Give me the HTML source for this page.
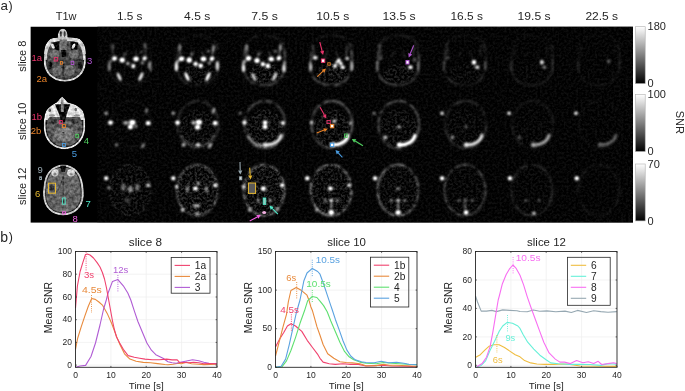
<!DOCTYPE html>
<html><head><meta charset="utf-8"><style>
html,body{margin:0;padding:0;background:#fff;width:685px;height:391px;overflow:hidden;}
svg text{font-family:"Liberation Sans", sans-serif;}
svg{will-change:transform;}
</style></head><body>
<svg width="685" height="391" viewBox="0 0 685 391" style="position:absolute;left:0;top:0" font-family='"Liberation Sans", sans-serif'>
<defs>
 <filter color-interpolation-filters="sRGB" id="b05" x="-20%" y="-20%" width="140%" height="140%"><feGaussianBlur stdDeviation="0.5"/></filter>
 <filter color-interpolation-filters="sRGB" id="b07" x="-50%" y="-50%" width="200%" height="200%"><feGaussianBlur stdDeviation="1.0"/></filter>
 <filter color-interpolation-filters="sRGB" id="snr" x="-50%" y="-50%" width="200%" height="200%"><feGaussianBlur stdDeviation="1.0"/><feComponentTransfer><feFuncR type="linear" slope="1.6"/><feFuncG type="linear" slope="1.6"/><feFuncB type="linear" slope="1.6"/></feComponentTransfer></filter>
 <filter color-interpolation-filters="sRGB" id="tex" x="0" y="0" width="100%" height="100%">
  <feTurbulence type="fractalNoise" baseFrequency="0.32" numOctaves="2" seed="7" result="n"/>
  <feColorMatrix in="n" type="matrix" values="1 0 0 0 0 1 0 0 0 0 1 0 0 0 0 0 0 0 0 1" result="g"/>
  <feComposite in="SourceGraphic" in2="g" operator="arithmetic" k1="0" k2="1" k3="0.5" k4="-0.25" result="m"/>
  <feComposite in="m" in2="SourceAlpha" operator="in" result="c"/>
  <feGaussianBlur in="c" stdDeviation="0.45"/>
 </filter>
 <filter color-interpolation-filters="sRGB" id="speck" x="0" y="0" width="100%" height="100%">
  <feTurbulence type="fractalNoise" baseFrequency="0.42" numOctaves="2" seed="11" result="n"/>
  <feColorMatrix in="n" type="matrix" values="3 0 0 0 -1.2 3 0 0 0 -1.2 3 0 0 0 -1.2 0 0 0 0 1" result="g"/>
  <feComposite in="SourceGraphic" in2="g" operator="arithmetic" k1="1" k2="0" k3="0" k4="0" result="m"/>
  <feGaussianBlur in="m" stdDeviation="0.45"/>
 </filter>
 <filter color-interpolation-filters="sRGB" id="ringf" x="-10%" y="-10%" width="120%" height="120%">
  <feTurbulence type="fractalNoise" baseFrequency="0.18" numOctaves="2" seed="5" result="n"/>
  <feColorMatrix in="n" type="matrix" values="3.2 0 0 0 -0.9 3.2 0 0 0 -0.9 3.2 0 0 0 -0.9 0 0 0 0 1" result="g"/>
  <feComposite in="SourceGraphic" in2="g" operator="arithmetic" k1="1" k2="0" k3="0" k4="0" result="m"/>
  <feGaussianBlur in="m" stdDeviation="0.8"/>
  <feComponentTransfer><feFuncR type="linear" slope="1.5"/><feFuncG type="linear" slope="1.5"/><feFuncB type="linear" slope="1.5"/></feComponentTransfer>
 </filter>
 <filter color-interpolation-filters="sRGB" id="b08" x="-50%" y="-50%" width="200%" height="200%"><feGaussianBlur stdDeviation="0.8"/></filter>
 <filter color-interpolation-filters="sRGB" id="b12" x="-50%" y="-50%" width="200%" height="200%"><feGaussianBlur stdDeviation="1.2"/></filter>
 <filter color-interpolation-filters="sRGB" id="b20" x="-50%" y="-50%" width="200%" height="200%"><feGaussianBlur stdDeviation="2"/></filter>
 <linearGradient id="cbg" x1="0" y1="0" x2="0" y2="1">
  <stop offset="0" stop-color="#fff"/><stop offset="1" stop-color="#000"/>
 </linearGradient>
 <clipPath id="gridclip"><rect x="30.4" y="26.5" width="602.6" height="196.3"/></clipPath>
</defs>
<rect width="685" height="391" fill="#fff"/><g clip-path="url(#gridclip)"><rect x="30.4" y="26.5" width="602.6" height="196.3" fill="#000"/><rect x="97.4" y="26.5" width="535.6" height="196" fill="rgb(15,15,15)" filter="url(#speck)"/><g filter="url(#tex)"><path d="M43.8,63 C43.8,52 45.2,45 48.8,41 C51.5,38.4 55.5,37.4 60,37.4 L70,37.4 C74.5,37.4 78.5,38.4 81.2,41 C84.8,45 86,52 85.8,63 C85.3,73 78,81.5 64.8,81.8 C51.8,81.5 44.3,73 43.8,63 Z" fill="#d4d4d4"/><path d="M45.6,60 C45.6,71 52,79.6 64.8,79.8 C77.6,79.6 84,71 84,60 Z" fill="#2a2a2a"/><path d="M46.6,63 C46.6,54 48,48 51,44.5 C53.5,42 56.5,41 60,41 L70,41 C73.5,41 76.5,42 79,44.5 C82,48 83.2,54 83.2,63 C82.8,71.5 76.5,78.6 64.8,78.8 C53.2,78.6 47,71.5 46.6,63 Z" fill="#4a4a4a"/><path d="M45.3,54 C45.6,47 47.5,42.5 51,40.2 C54,38.8 57,38.8 60,38.8 L70,38.8 C73,38.8 76,38.8 79,40.2 C82.5,42.5 84.4,47 84.7,54" fill="none" stroke="#d8d8d8" stroke-width="2.6"/><path d="M51.2,42.5 L59.5,41.5 L59,50.5 L53.5,50 Z" fill="#080808"/><path d="M70.2,41.5 L78.5,42.5 L76.5,50 L70.8,50.5 Z" fill="#080808"/><ellipse cx="52.9" cy="46.2" rx="1.5" ry="2.8" fill="#e6e6e6" transform="rotate(-25 52.9 46.2)"/><ellipse cx="73.6" cy="46.2" rx="1.5" ry="2.8" fill="#e6e6e6" transform="rotate(25 73.6 46.2)"/><rect x="59.6" y="39.5" width="7.6" height="11" fill="#6e6e6e"/><path d="M61,50 L66.5,50 L65.8,57 L61.8,57 Z" fill="#0c0c0c"/><ellipse cx="54.6" cy="54" rx="5" ry="4.5" fill="#676767"/><ellipse cx="74" cy="54" rx="5" ry="4.5" fill="#676767"/><ellipse cx="49.6" cy="65.5" rx="2.4" ry="3.8" fill="#161616"/><ellipse cx="80" cy="65.5" rx="2.4" ry="3.8" fill="#161616"/><ellipse cx="57.3" cy="70.6" rx="4.8" ry="5.3" fill="#6a6a6a"/><ellipse cx="69.6" cy="70.6" rx="5.2" ry="5.3" fill="#6a6a6a"/><rect x="62.6" y="64" width="1.5" height="12" fill="#262626"/><path d="M57.8,38.5 C57.4,34 58.6,30.4 60.8,29.2 C62,28.6 63.6,28.6 64.8,29.2 C67,30.4 68,34 67.6,38.5 Z" fill="#c8c8c8"/><ellipse cx="60.9" cy="34" rx="1.0" ry="3" fill="#303030"/><ellipse cx="64.6" cy="34" rx="1.0" ry="3" fill="#303030"/></g><g filter="url(#tex)"><path d="M62.2,96.6 C64,98 66,100.8 68,102.4 C74,103.5 80,106.5 83,111 C85.2,116 85.4,122 85.2,128 C85,140 76,149.3 64.5,149.3 C53,149.3 44,140 43.8,128 C43.6,122 44,116 46,111 C49,106.5 54,103.5 56.5,102.4 C58.5,100.8 60.4,98 62.2,96.6 Z" fill="#e0e0e0"/><path d="M45.7,120 C45.5,125 45.5,127 45.6,128.5 C46,139 54,147.4 64.5,147.4 C75,147.4 83,139 83.4,128.5 C83.5,127 83.5,125 83.3,120 Z" fill="#222"/><path d="M46.8,128 C46.8,122 47.4,119 49.5,117 L79.5,117 C81.4,119 82.2,122 82.2,128 C82.2,138.5 74.5,146.3 64.5,146.3 C54.5,146.3 46.8,138.5 46.8,128 Z" fill="#585858"/><ellipse cx="49.7" cy="110.3" rx="1.3" ry="1.8" fill="#606060"/><ellipse cx="75.7" cy="109.5" rx="1.3" ry="1.8" fill="#606060"/><ellipse cx="52" cy="115.5" rx="3" ry="1.2" fill="#909090"/><ellipse cx="77" cy="115.5" rx="3" ry="1.2" fill="#909090"/><path d="M55,104.2 L70.2,104.2 L66.8,114 L64.8,122.5 L61.4,122.5 L59,114 Z" fill="#0a0a0a"/><path d="M61.1,99.5 L63.5,99.5 L63.9,112 L60.8,112 Z" fill="#828282"/><ellipse cx="54" cy="121.5" rx="3.4" ry="2.4" fill="#383838"/><ellipse cx="74.5" cy="121.5" rx="3.4" ry="2.4" fill="#383838"/><ellipse cx="64.2" cy="134.5" rx="10" ry="7.6" fill="#7a7a7a"/><ellipse cx="63.3" cy="132.8" rx="1.2" ry="0.8" fill="#1e1e1e"/></g><g filter="url(#tex)"><path d="M63.2,164.6 C72,164.6 78.5,170 81.5,178 C83.5,184 84,190 83.8,196 C83.3,207 75,215.4 63.2,215.4 C51.4,215.4 43.5,207 43.1,196 C42.9,190 43.4,184 45.1,178 C48.1,170 54.4,164.6 63.2,164.6 Z" fill="#d0d0d0"/><path d="M63.2,166.6 C71,166.6 77,171.5 79.6,178.5 C81.4,184 81.9,190 81.7,196 C81.3,206 74,213.4 63.2,213.4 C52.4,213.4 45.5,206 45.2,196 C45,190 45.4,184 47,178.5 C49.6,171.5 55.4,166.6 63.2,166.6 Z" fill="#262626"/><path d="M63.2,167.6 C70.5,167.6 76.2,172 78.7,179 C80.4,184 80.9,190 80.7,196 C80.3,205.5 73.5,212.4 63.2,212.4 C52.9,212.4 46.4,205.5 46.1,196 C45.9,190 46.3,184 47.9,179 C50.4,172 55.9,167.6 63.2,167.6 Z" fill="#666666"/><ellipse cx="55" cy="172.8" rx="3.6" ry="3.6" fill="#d4d4d4"/><ellipse cx="71" cy="172.8" rx="4.0" ry="3.6" fill="#d4d4d4"/><ellipse cx="55" cy="174" rx="1.5" ry="1.5" fill="#808080"/><ellipse cx="71" cy="174" rx="1.5" ry="1.5" fill="#808080"/><path d="M60,165.5 L66.3,165.5 L64.8,172 L61.5,172 Z" fill="#0c0c0c"/><rect x="62.6" y="176" width="1.1" height="28" fill="#303030"/><ellipse cx="53" cy="200" rx="5" ry="6" fill="#5e5e5e"/><ellipse cx="73.5" cy="200" rx="5" ry="6" fill="#5e5e5e"/><ellipse cx="52" cy="188" rx="2.2" ry="3.5" fill="#404040"/><path d="M63.2,176 C62,182 60,186 58,190" fill="none" stroke="#404040" stroke-width="0.8"/></g><ellipse cx="130.9" cy="73.5" rx="15.5" ry="10" fill="rgb(18,18,18)" filter="url(#speck)"/><ellipse cx="197.9" cy="73.5" rx="15.5" ry="10" fill="rgb(34,34,34)" filter="url(#speck)"/><ellipse cx="264.8" cy="73.5" rx="15.5" ry="10" fill="rgb(48,48,48)" filter="url(#speck)"/><ellipse cx="331.8" cy="73.5" rx="15.5" ry="10" fill="rgb(48,48,48)" filter="url(#speck)"/><ellipse cx="398.7" cy="73.5" rx="15.5" ry="10" fill="rgb(38,38,38)" filter="url(#speck)"/><ellipse cx="465.6" cy="73.5" rx="15.5" ry="10" fill="rgb(26,26,26)" filter="url(#speck)"/><ellipse cx="532.6" cy="73.5" rx="15.5" ry="10" fill="rgb(20,20,20)" filter="url(#speck)"/><ellipse cx="599.5" cy="73.5" rx="15.5" ry="10" fill="rgb(16,16,16)" filter="url(#speck)"/><ellipse cx="130.9" cy="128.8" rx="18.5" ry="19.5" fill="rgb(18,18,18)" filter="url(#speck)"/><ellipse cx="197.9" cy="128.8" rx="18.5" ry="19.5" fill="rgb(34,34,34)" filter="url(#speck)"/><ellipse cx="264.8" cy="128.8" rx="18.5" ry="19.5" fill="rgb(44,44,44)" filter="url(#speck)"/><ellipse cx="331.8" cy="128.8" rx="18.5" ry="19.5" fill="rgb(44,44,44)" filter="url(#speck)"/><ellipse cx="398.7" cy="128.8" rx="18.5" ry="19.5" fill="rgb(36,36,36)" filter="url(#speck)"/><ellipse cx="465.6" cy="128.8" rx="18.5" ry="19.5" fill="rgb(26,26,26)" filter="url(#speck)"/><ellipse cx="532.6" cy="128.8" rx="18.5" ry="19.5" fill="rgb(20,20,20)" filter="url(#speck)"/><ellipse cx="599.5" cy="128.8" rx="18.5" ry="19.5" fill="rgb(16,16,16)" filter="url(#speck)"/><ellipse cx="130.2" cy="190.2" rx="21.5" ry="26.5" fill="rgb(34,34,34)" filter="url(#speck)"/><ellipse cx="197.2" cy="190.2" rx="21.5" ry="26.5" fill="rgb(50,50,50)" filter="url(#speck)"/><ellipse cx="264.1" cy="190.2" rx="21.5" ry="26.5" fill="rgb(52,52,52)" filter="url(#speck)"/><ellipse cx="331.1" cy="190.2" rx="21.5" ry="26.5" fill="rgb(42,42,42)" filter="url(#speck)"/><ellipse cx="398.0" cy="190.2" rx="21.5" ry="26.5" fill="rgb(32,32,32)" filter="url(#speck)"/><ellipse cx="464.9" cy="190.2" rx="21.5" ry="26.5" fill="rgb(24,24,24)" filter="url(#speck)"/><ellipse cx="531.9" cy="190.2" rx="21.5" ry="26.5" fill="rgb(19,19,19)" filter="url(#speck)"/><ellipse cx="598.8" cy="190.2" rx="21.5" ry="26.5" fill="rgb(15,15,15)" filter="url(#speck)"/><g filter="url(#ringf)" style="mix-blend-mode:screen"><rect x="98.4" y="27.5" width="64.9" height="63.3" fill="#000"/><path d="M14.5,17 C13,25 12.5,34 12.6,42 C13,48 16,53 20.5,55.8 C26,58.6 34,59.2 40,57.8 C46,56.3 50.6,51.5 53,44.5 C54.2,36 53.8,25 52,17" transform="translate(97.44,26.50)" fill="none" stroke="rgb(14,14,14)" stroke-width="1.7"/><path d="M14.5,17 C19,11 26,8.8 33.3,8.8 C40.5,8.8 47.5,11 52,17" transform="translate(97.44,26.50)" fill="none" stroke="rgb(7,7,7)" stroke-width="1.2"/></g><g filter="url(#snr)" style="mix-blend-mode:screen"><rect x="98.4" y="27.5" width="64.9" height="63.3" fill="#000"/><line x1="112.4" y1="45.5" x2="113.4" y2="55.5" stroke="rgb(49,49,49)" stroke-width="1.1" stroke-linecap="round"/><line x1="146.2" y1="45.5" x2="145.4" y2="55.5" stroke="rgb(54,54,54)" stroke-width="1.1" stroke-linecap="round"/><line x1="126.9" y1="51.5" x2="123.4" y2="57.5" stroke="rgb(40,40,40)" stroke-width="1.0" stroke-linecap="round"/><line x1="134.9" y1="51.5" x2="137.4" y2="57.5" stroke="rgb(40,40,40)" stroke-width="1.0" stroke-linecap="round"/><line x1="109.2" y1="62.0" x2="109.2" y2="70.5" stroke="rgb(85,85,85)" stroke-width="1.5" stroke-linecap="round"/><line x1="150.4" y1="62.0" x2="150.6" y2="70.5" stroke="rgb(81,81,81)" stroke-width="1.5" stroke-linecap="round"/><ellipse cx="114.5" cy="58.5" rx="2.5" ry="2.1" fill="rgb(191,191,191)" transform="rotate(-10 114.5 58.5)"/><ellipse cx="122.2" cy="60.1" rx="2.6" ry="2.4000000000000004" fill="rgb(191,191,191)"/><ellipse cx="136.0" cy="59.0" rx="2.7" ry="2.2" fill="rgb(191,191,191)"/><ellipse cx="144.6" cy="58.4" rx="2.3000000000000003" ry="1.9" fill="rgb(180,180,180)" transform="rotate(-30 144.6 58.4)"/><ellipse cx="133.3" cy="66.1" rx="1.9" ry="2.2" fill="rgb(191,191,191)"/><ellipse cx="127.9" cy="63.5" rx="1.8" ry="1.7" fill="rgb(120,120,120)"/><ellipse cx="119.2" cy="76.8" rx="1.5" ry="4.4" fill="rgb(157,157,157)" transform="rotate(-25 119.2 76.8)"/><ellipse cx="141.0" cy="76.5" rx="1.5" ry="4.6000000000000005" fill="rgb(157,157,157)" transform="rotate(25 141.0 76.5)"/><ellipse cx="109.2" cy="66.7" rx="1.4" ry="3.8000000000000003" fill="rgb(90,90,90)"/><ellipse cx="149.4" cy="65.3" rx="1.4" ry="3.8000000000000003" fill="rgb(90,90,90)"/><ellipse cx="112.8" cy="46.5" rx="1.3" ry="2.8000000000000003" fill="rgb(60,60,60)"/><ellipse cx="144.8" cy="45.5" rx="1.3" ry="2.8000000000000003" fill="rgb(67,67,67)"/><ellipse cx="142.4" cy="62.9" rx="1.5999999999999999" ry="1.5999999999999999" fill="rgb(97,97,97)"/><ellipse cx="110.7" cy="61.6" rx="1.4" ry="1.4" fill="rgb(75,75,75)"/><ellipse cx="124.8" cy="54.3" rx="1.5999999999999999" ry="1.2" fill="rgb(60,60,60)"/><ellipse cx="141.4" cy="52.0" rx="1.5999999999999999" ry="1.2" fill="rgb(52,52,52)"/></g><g filter="url(#ringf)" style="mix-blend-mode:screen"><rect x="165.4" y="27.5" width="64.9" height="63.3" fill="#000"/><path d="M14.5,17 C13,25 12.5,34 12.6,42 C13,48 16,53 20.5,55.8 C26,58.6 34,59.2 40,57.8 C46,56.3 50.6,51.5 53,44.5 C54.2,36 53.8,25 52,17" transform="translate(164.38,26.50)" fill="none" stroke="rgb(37,37,37)" stroke-width="1.7"/><path d="M14.5,17 C19,11 26,8.8 33.3,8.8 C40.5,8.8 47.5,11 52,17" transform="translate(164.38,26.50)" fill="none" stroke="rgb(18,18,18)" stroke-width="1.2"/></g><g filter="url(#snr)" style="mix-blend-mode:screen"><rect x="165.4" y="27.5" width="64.9" height="63.3" fill="#000"/><line x1="179.4" y1="45.5" x2="180.4" y2="55.5" stroke="rgb(74,74,74)" stroke-width="1.1" stroke-linecap="round"/><line x1="213.2" y1="45.5" x2="212.4" y2="55.5" stroke="rgb(81,81,81)" stroke-width="1.1" stroke-linecap="round"/><line x1="193.9" y1="51.5" x2="190.4" y2="57.5" stroke="rgb(60,60,60)" stroke-width="1.0" stroke-linecap="round"/><line x1="201.9" y1="51.5" x2="204.4" y2="57.5" stroke="rgb(60,60,60)" stroke-width="1.0" stroke-linecap="round"/><line x1="176.2" y1="62.0" x2="176.2" y2="70.5" stroke="rgb(128,128,128)" stroke-width="1.5" stroke-linecap="round"/><line x1="217.4" y1="62.0" x2="217.6" y2="70.5" stroke="rgb(121,121,121)" stroke-width="1.5" stroke-linecap="round"/><ellipse cx="181.5" cy="58.8" rx="2.8000000000000003" ry="2.2" fill="rgb(191,191,191)" transform="rotate(-15 181.5 58.8)"/><ellipse cx="189.2" cy="60.0" rx="2.6" ry="2.6" fill="rgb(191,191,191)"/><ellipse cx="203.5" cy="59.0" rx="2.8000000000000003" ry="2.2" fill="rgb(191,191,191)"/><ellipse cx="212.0" cy="58.8" rx="2.4000000000000004" ry="2.0" fill="rgb(191,191,191)" transform="rotate(-30 212.0 58.8)"/><ellipse cx="195.6" cy="63.9" rx="2.1" ry="2.1" fill="rgb(191,191,191)"/><ellipse cx="200.7" cy="65.7" rx="2.1" ry="2.3000000000000003" fill="rgb(191,191,191)"/><ellipse cx="187.0" cy="76.6" rx="1.5" ry="4.8" fill="rgb(180,180,180)" transform="rotate(-25 187.0 76.6)"/><ellipse cx="208.0" cy="76.6" rx="1.5" ry="4.8" fill="rgb(183,183,183)" transform="rotate(25 208.0 76.6)"/><ellipse cx="176.4" cy="66.7" rx="1.5999999999999999" ry="4.2" fill="rgb(165,165,165)"/><ellipse cx="217.3" cy="65.4" rx="1.5999999999999999" ry="4.2" fill="rgb(142,142,142)"/><ellipse cx="179.9" cy="47.5" rx="1.3" ry="3.4000000000000004" fill="rgb(90,90,90)"/><ellipse cx="213.4" cy="48.5" rx="1.3" ry="3.8000000000000003" fill="rgb(97,97,97)" transform="rotate(5 213.4 48.5)"/><ellipse cx="209.4" cy="62.9" rx="1.5" ry="1.5" fill="rgb(105,105,105)"/><ellipse cx="177.7" cy="61.6" rx="1.5" ry="1.5" fill="rgb(112,112,112)"/><ellipse cx="191.8" cy="53.9" rx="1.7" ry="1.2" fill="rgb(75,75,75)"/><ellipse cx="208.4" cy="51.3" rx="1.7" ry="1.2" fill="rgb(75,75,75)"/></g><g filter="url(#ringf)" style="mix-blend-mode:screen"><rect x="232.3" y="27.5" width="64.9" height="63.3" fill="#000"/><path d="M14.5,17 C13,25 12.5,34 12.6,42 C13,48 16,53 20.5,55.8 C26,58.6 34,59.2 40,57.8 C46,56.3 50.6,51.5 53,44.5 C54.2,36 53.8,25 52,17" transform="translate(231.32,26.50)" fill="none" stroke="rgb(64,64,64)" stroke-width="1.7"/><path d="M14.5,17 C19,11 26,8.8 33.3,8.8 C40.5,8.8 47.5,11 52,17" transform="translate(231.32,26.50)" fill="none" stroke="rgb(32,32,32)" stroke-width="1.2"/></g><g filter="url(#snr)" style="mix-blend-mode:screen"><rect x="232.3" y="27.5" width="64.9" height="63.3" fill="#000"/><line x1="246.3" y1="45.5" x2="247.3" y2="55.5" stroke="rgb(82,82,82)" stroke-width="1.1" stroke-linecap="round"/><line x1="280.1" y1="45.5" x2="279.3" y2="55.5" stroke="rgb(90,90,90)" stroke-width="1.1" stroke-linecap="round"/><line x1="260.8" y1="51.5" x2="257.3" y2="57.5" stroke="rgb(67,67,67)" stroke-width="1.0" stroke-linecap="round"/><line x1="268.8" y1="51.5" x2="271.3" y2="57.5" stroke="rgb(67,67,67)" stroke-width="1.0" stroke-linecap="round"/><line x1="243.1" y1="62.0" x2="243.1" y2="70.5" stroke="rgb(142,142,142)" stroke-width="1.5" stroke-linecap="round"/><line x1="284.3" y1="62.0" x2="284.5" y2="70.5" stroke="rgb(135,135,135)" stroke-width="1.5" stroke-linecap="round"/><ellipse cx="248.5" cy="58.4" rx="2.7" ry="2.2" fill="rgb(191,191,191)" transform="rotate(-15 248.5 58.4)"/><ellipse cx="257.0" cy="60.6" rx="2.6" ry="2.4000000000000004" fill="rgb(191,191,191)"/><ellipse cx="271.3" cy="59.1" rx="2.7" ry="2.2" fill="rgb(191,191,191)"/><ellipse cx="278.9" cy="58.3" rx="2.4000000000000004" ry="2.0" fill="rgb(191,191,191)" transform="rotate(-30 278.9 58.3)"/><ellipse cx="262.9" cy="64.1" rx="2.1" ry="2.2" fill="rgb(191,191,191)"/><ellipse cx="267.9" cy="65.9" rx="2.1" ry="2.3000000000000003" fill="rgb(191,191,191)"/><ellipse cx="253.8" cy="77.0" rx="1.5" ry="4.4" fill="rgb(135,135,135)" transform="rotate(-25 253.8 77.0)"/><ellipse cx="274.7" cy="76.5" rx="1.5" ry="4.6000000000000005" fill="rgb(142,142,142)" transform="rotate(25 274.7 76.5)"/><ellipse cx="243.5" cy="68.2" rx="1.5999999999999999" ry="3.8000000000000003" fill="rgb(157,157,157)"/><ellipse cx="283.9" cy="68.2" rx="1.5999999999999999" ry="3.8000000000000003" fill="rgb(150,150,150)"/><ellipse cx="246.8" cy="47.5" rx="1.3" ry="3.4000000000000004" fill="rgb(90,90,90)"/><ellipse cx="280.5" cy="47.5" rx="1.3" ry="3.4000000000000004" fill="rgb(105,105,105)" transform="rotate(5 280.5 47.5)"/><ellipse cx="244.6" cy="61.6" rx="1.5" ry="1.5" fill="rgb(112,112,112)"/><ellipse cx="258.7" cy="53.9" rx="1.7" ry="1.2" fill="rgb(75,75,75)"/><ellipse cx="275.3" cy="51.3" rx="1.7" ry="1.2" fill="rgb(75,75,75)"/></g><g filter="url(#ringf)" style="mix-blend-mode:screen"><rect x="299.3" y="27.5" width="64.9" height="63.3" fill="#000"/><path d="M14.5,17 C13,25 12.5,34 12.6,42 C13,48 16,53 20.5,55.8 C26,58.6 34,59.2 40,57.8 C46,56.3 50.6,51.5 53,44.5 C54.2,36 53.8,25 52,17" transform="translate(298.26,26.50)" fill="none" stroke="rgb(71,71,71)" stroke-width="1.7"/><path d="M14.5,17 C19,11 26,8.8 33.3,8.8 C40.5,8.8 47.5,11 52,17" transform="translate(298.26,26.50)" fill="none" stroke="rgb(35,35,35)" stroke-width="1.2"/></g><g filter="url(#snr)" style="mix-blend-mode:screen"><rect x="299.3" y="27.5" width="64.9" height="63.3" fill="#000"/><line x1="313.3" y1="45.5" x2="314.3" y2="55.5" stroke="rgb(61,61,61)" stroke-width="1.1" stroke-linecap="round"/><line x1="347.1" y1="45.5" x2="346.3" y2="55.5" stroke="rgb(67,67,67)" stroke-width="1.1" stroke-linecap="round"/><line x1="327.8" y1="51.5" x2="324.3" y2="57.5" stroke="rgb(50,50,50)" stroke-width="1.0" stroke-linecap="round"/><line x1="335.8" y1="51.5" x2="338.3" y2="57.5" stroke="rgb(50,50,50)" stroke-width="1.0" stroke-linecap="round"/><line x1="310.1" y1="62.0" x2="310.1" y2="70.5" stroke="rgb(106,106,106)" stroke-width="1.5" stroke-linecap="round"/><line x1="351.3" y1="62.0" x2="351.5" y2="70.5" stroke="rgb(101,101,101)" stroke-width="1.5" stroke-linecap="round"/><ellipse cx="315.2" cy="57.7" rx="2.5" ry="1.8" fill="rgb(168,168,168)"/><ellipse cx="338.9" cy="60.3" rx="1.8" ry="1.8" fill="rgb(191,191,191)"/><ellipse cx="340.8" cy="63.5" rx="1.8" ry="1.8" fill="rgb(191,191,191)"/><ellipse cx="335.0" cy="66.1" rx="2.0" ry="1.8" fill="rgb(191,191,191)"/><ellipse cx="342.7" cy="67.3" rx="2.0" ry="1.8" fill="rgb(191,191,191)"/><ellipse cx="336.9" cy="62.2" rx="1.5" ry="1.5" fill="rgb(165,165,165)"/><ellipse cx="347.2" cy="58.4" rx="1.9" ry="1.7" fill="rgb(142,142,142)"/><ellipse cx="310.7" cy="66.5" rx="1.4" ry="3.7" fill="rgb(112,112,112)"/><ellipse cx="351.9" cy="66.5" rx="1.4" ry="3.7" fill="rgb(112,112,112)"/></g><g filter="url(#ringf)" style="mix-blend-mode:screen"><rect x="366.2" y="27.5" width="64.9" height="63.3" fill="#000"/><path d="M14.5,17 C13,25 12.5,34 12.6,42 C13,48 16,53 20.5,55.8 C26,58.6 34,59.2 40,57.8 C46,56.3 50.6,51.5 53,44.5 C54.2,36 53.8,25 52,17" transform="translate(365.20,26.50)" fill="none" stroke="rgb(64,64,64)" stroke-width="1.7"/><path d="M14.5,17 C19,11 26,8.8 33.3,8.8 C40.5,8.8 47.5,11 52,17" transform="translate(365.20,26.50)" fill="none" stroke="rgb(32,32,32)" stroke-width="1.2"/></g><g filter="url(#snr)" style="mix-blend-mode:screen"><rect x="366.2" y="27.5" width="64.9" height="63.3" fill="#000"/><line x1="380.2" y1="45.5" x2="381.2" y2="55.5" stroke="rgb(45,45,45)" stroke-width="1.1" stroke-linecap="round"/><line x1="414.0" y1="45.5" x2="413.2" y2="55.5" stroke="rgb(49,49,49)" stroke-width="1.1" stroke-linecap="round"/><line x1="394.7" y1="51.5" x2="391.2" y2="57.5" stroke="rgb(37,37,37)" stroke-width="1.0" stroke-linecap="round"/><line x1="402.7" y1="51.5" x2="405.2" y2="57.5" stroke="rgb(37,37,37)" stroke-width="1.0" stroke-linecap="round"/><line x1="377.0" y1="62.0" x2="377.0" y2="70.5" stroke="rgb(78,78,78)" stroke-width="1.5" stroke-linecap="round"/><line x1="418.2" y1="62.0" x2="418.4" y2="70.5" stroke="rgb(74,74,74)" stroke-width="1.5" stroke-linecap="round"/><ellipse cx="410.4" cy="67.3" rx="2.2" ry="1.8" fill="rgb(191,191,191)"/><ellipse cx="380.9" cy="58.0" rx="1.5" ry="1.5" fill="rgb(75,75,75)"/><ellipse cx="414.6" cy="59.7" rx="1.5" ry="2.0" fill="rgb(67,67,67)"/></g><g filter="url(#ringf)" style="mix-blend-mode:screen"><rect x="433.1" y="27.5" width="64.9" height="63.3" fill="#000"/><path d="M14.5,17 C13,25 12.5,34 12.6,42 C13,48 16,53 20.5,55.8 C26,58.6 34,59.2 40,57.8 C46,56.3 50.6,51.5 53,44.5 C54.2,36 53.8,25 52,17" transform="translate(432.14,26.50)" fill="none" stroke="rgb(39,39,39)" stroke-width="1.7"/><path d="M14.5,17 C19,11 26,8.8 33.3,8.8 C40.5,8.8 47.5,11 52,17" transform="translate(432.14,26.50)" fill="none" stroke="rgb(19,19,19)" stroke-width="1.2"/></g><g filter="url(#snr)" style="mix-blend-mode:screen"><rect x="433.1" y="27.5" width="64.9" height="63.3" fill="#000"/><line x1="447.1" y1="45.5" x2="448.1" y2="55.5" stroke="rgb(28,28,28)" stroke-width="1.1" stroke-linecap="round"/><line x1="480.9" y1="45.5" x2="480.1" y2="55.5" stroke="rgb(31,31,31)" stroke-width="1.1" stroke-linecap="round"/><line x1="461.6" y1="51.5" x2="458.1" y2="57.5" stroke="rgb(23,23,23)" stroke-width="1.0" stroke-linecap="round"/><line x1="469.6" y1="51.5" x2="472.1" y2="57.5" stroke="rgb(23,23,23)" stroke-width="1.0" stroke-linecap="round"/><line x1="443.9" y1="62.0" x2="443.9" y2="70.5" stroke="rgb(49,49,49)" stroke-width="1.5" stroke-linecap="round"/><line x1="485.1" y1="62.0" x2="485.3" y2="70.5" stroke="rgb(47,47,47)" stroke-width="1.5" stroke-linecap="round"/><ellipse cx="474.0" cy="62.3" rx="2.1" ry="2.4000000000000004" fill="rgb(191,191,191)"/><ellipse cx="477.3" cy="67.3" rx="2.0" ry="1.7" fill="rgb(165,165,165)"/><ellipse cx="447.8" cy="58.0" rx="1.4" ry="1.4" fill="rgb(60,60,60)"/></g><g filter="url(#ringf)" style="mix-blend-mode:screen"><rect x="500.1" y="27.5" width="64.9" height="63.3" fill="#000"/><path d="M14.5,17 C13,25 12.5,34 12.6,42 C13,48 16,53 20.5,55.8 C26,58.6 34,59.2 40,57.8 C46,56.3 50.6,51.5 53,44.5 C54.2,36 53.8,25 52,17" transform="translate(499.08,26.50)" fill="none" stroke="rgb(25,25,25)" stroke-width="1.7"/><path d="M14.5,17 C19,11 26,8.8 33.3,8.8 C40.5,8.8 47.5,11 52,17" transform="translate(499.08,26.50)" fill="none" stroke="rgb(12,12,12)" stroke-width="1.2"/></g><g filter="url(#snr)" style="mix-blend-mode:screen"><rect x="500.1" y="27.5" width="64.9" height="63.3" fill="#000"/><line x1="514.1" y1="45.5" x2="515.1" y2="55.5" stroke="rgb(18,18,18)" stroke-width="1.1" stroke-linecap="round"/><line x1="547.9" y1="45.5" x2="547.1" y2="55.5" stroke="rgb(19,19,19)" stroke-width="1.1" stroke-linecap="round"/><line x1="528.6" y1="51.5" x2="525.1" y2="57.5" stroke="rgb(14,14,14)" stroke-width="1.0" stroke-linecap="round"/><line x1="536.6" y1="51.5" x2="539.1" y2="57.5" stroke="rgb(14,14,14)" stroke-width="1.0" stroke-linecap="round"/><line x1="510.9" y1="62.0" x2="510.9" y2="70.5" stroke="rgb(31,31,31)" stroke-width="1.5" stroke-linecap="round"/><line x1="552.1" y1="62.0" x2="552.3" y2="70.5" stroke="rgb(29,29,29)" stroke-width="1.5" stroke-linecap="round"/><ellipse cx="541.9" cy="62.3" rx="1.9" ry="2.2" fill="rgb(150,150,150)"/><ellipse cx="544.4" cy="67.3" rx="1.7" ry="1.5" fill="rgb(97,97,97)"/></g><g filter="url(#ringf)" style="mix-blend-mode:screen"><rect x="567.0" y="27.5" width="64.9" height="63.3" fill="#000"/><path d="M14.5,17 C13,25 12.5,34 12.6,42 C13,48 16,53 20.5,55.8 C26,58.6 34,59.2 40,57.8 C46,56.3 50.6,51.5 53,44.5 C54.2,36 53.8,25 52,17" transform="translate(566.02,26.50)" fill="none" stroke="rgb(17,17,17)" stroke-width="1.7"/><path d="M14.5,17 C19,11 26,8.8 33.3,8.8 C40.5,8.8 47.5,11 52,17" transform="translate(566.02,26.50)" fill="none" stroke="rgb(8,8,8)" stroke-width="1.2"/></g><g filter="url(#snr)" style="mix-blend-mode:screen"><rect x="567.0" y="27.5" width="64.9" height="63.3" fill="#000"/><line x1="581.0" y1="45.5" x2="582.0" y2="55.5" stroke="rgb(9,9,9)" stroke-width="1.1" stroke-linecap="round"/><line x1="614.8" y1="45.5" x2="614.0" y2="55.5" stroke="rgb(10,10,10)" stroke-width="1.1" stroke-linecap="round"/><line x1="595.5" y1="51.5" x2="592.0" y2="57.5" stroke="rgb(8,8,8)" stroke-width="1.0" stroke-linecap="round"/><line x1="603.5" y1="51.5" x2="606.0" y2="57.5" stroke="rgb(8,8,8)" stroke-width="1.0" stroke-linecap="round"/><line x1="577.8" y1="62.0" x2="577.8" y2="70.5" stroke="rgb(17,17,17)" stroke-width="1.5" stroke-linecap="round"/><line x1="619.0" y1="62.0" x2="619.2" y2="70.5" stroke="rgb(16,16,16)" stroke-width="1.5" stroke-linecap="round"/><ellipse cx="608.7" cy="61.4" rx="1.8" ry="1.8" fill="rgb(67,67,67)"/></g><g filter="url(#ringf)" style="mix-blend-mode:screen"><rect x="98.4" y="92.8" width="64.9" height="63.3" fill="#000"/><path d="M33.6,9 C45,9 54,19.5 54,32.8 C54,46 45,56.6 33.6,56.6 C22.2,56.6 13.2,46 13.2,32.8 C13.2,19.5 22.2,9 33.6,9 Z" transform="translate(97.44,91.83)" fill="none" stroke="rgb(10,10,10)" stroke-width="1.7"/></g><g filter="url(#snr)" style="mix-blend-mode:screen"><rect x="98.4" y="92.8" width="64.9" height="63.3" fill="#000"/><ellipse cx="110.5" cy="122.6" rx="2.4000000000000004" ry="2.2" fill="rgb(183,183,183)"/><ellipse cx="132.4" cy="122.4" rx="3.0" ry="2.4000000000000004" fill="rgb(191,191,191)"/><ellipse cx="130.4" cy="127.0" rx="2.5" ry="2.2" fill="rgb(191,191,191)"/><ellipse cx="148.2" cy="123.1" rx="2.4000000000000004" ry="2.2" fill="rgb(191,191,191)"/><ellipse cx="106.2" cy="113.2" rx="1.7" ry="1.7" fill="rgb(112,112,112)"/><ellipse cx="146.5" cy="110.7" rx="1.3" ry="2.8000000000000003" fill="rgb(82,82,82)" transform="rotate(15 146.5 110.7)"/><ellipse cx="116.5" cy="144.9" rx="1.5999999999999999" ry="1.5999999999999999" fill="rgb(90,90,90)"/><ellipse cx="143.0" cy="145.7" rx="1.3" ry="2.8000000000000003" fill="rgb(97,97,97)" transform="rotate(35 143.0 145.7)"/><ellipse cx="125.9" cy="122.8" rx="2.8000000000000003" ry="1.9" fill="rgb(112,112,112)"/><ellipse cx="135.9" cy="126.3" rx="1.5999999999999999" ry="1.5999999999999999" fill="rgb(90,90,90)"/></g><g filter="url(#ringf)" style="mix-blend-mode:screen"><rect x="165.4" y="92.8" width="64.9" height="63.3" fill="#000"/><path d="M33.6,9 C45,9 54,19.5 54,32.8 C54,46 45,56.6 33.6,56.6 C22.2,56.6 13.2,46 13.2,32.8 C13.2,19.5 22.2,9 33.6,9 Z" transform="translate(164.38,91.83)" fill="none" stroke="rgb(37,37,37)" stroke-width="1.7"/></g><g filter="url(#snr)" style="mix-blend-mode:screen"><rect x="165.4" y="92.8" width="64.9" height="63.3" fill="#000"/><path d="M181.4,135.8 C184.4,142.8 191.4,145.8 198.4,145.6 C205.4,145.6 211.4,141.8 214.4,134.8" fill="none" stroke="rgb(45,45,45)" stroke-width="1.6" stroke-linecap="round"/><ellipse cx="177.6" cy="122.6" rx="2.3000000000000003" ry="2.2" fill="rgb(191,191,191)"/><ellipse cx="198.9" cy="122.2" rx="3.0" ry="2.4000000000000004" fill="rgb(191,191,191)"/><ellipse cx="197.6" cy="127.2" rx="2.6" ry="2.3000000000000003" fill="rgb(191,191,191)"/><ellipse cx="193.4" cy="122.8" rx="2.0" ry="1.7" fill="rgb(142,142,142)"/><ellipse cx="215.2" cy="123.1" rx="2.4000000000000004" ry="2.2" fill="rgb(191,191,191)"/><ellipse cx="213.5" cy="110.7" rx="1.4" ry="3.1" fill="rgb(112,112,112)" transform="rotate(20 213.5 110.7)"/><ellipse cx="198.1" cy="144.9" rx="2.2" ry="1.9" fill="rgb(150,150,150)"/><ellipse cx="183.6" cy="144.9" rx="1.8" ry="1.8" fill="rgb(127,127,127)"/><ellipse cx="210.1" cy="145.7" rx="1.4" ry="2.9000000000000004" fill="rgb(127,127,127)" transform="rotate(35 210.1 145.7)"/><ellipse cx="173.3" cy="113.2" rx="1.7" ry="1.7" fill="rgb(105,105,105)"/></g><g filter="url(#ringf)" style="mix-blend-mode:screen"><rect x="232.3" y="92.8" width="64.9" height="63.3" fill="#000"/><path d="M33.6,9 C45,9 54,19.5 54,32.8 C54,46 45,56.6 33.6,56.6 C22.2,56.6 13.2,46 13.2,32.8 C13.2,19.5 22.2,9 33.6,9 Z" transform="translate(231.32,91.83)" fill="none" stroke="rgb(71,71,71)" stroke-width="1.7"/></g><g filter="url(#snr)" style="mix-blend-mode:screen"><rect x="232.3" y="92.8" width="64.9" height="63.3" fill="#000"/><path d="M248.3,135.8 C251.3,142.8 258.3,145.8 265.3,145.6 C272.3,145.6 278.3,141.8 281.3,134.8" fill="none" stroke="rgb(127,127,127)" stroke-width="1.6" stroke-linecap="round"/><path d="M265.3,145.1 C273.3,145.3 279.8,141.3 281.1,135.3" fill="none" stroke="rgb(150,150,150)" stroke-width="3.0" stroke-linecap="round"/><ellipse cx="265.5" cy="144.8" rx="2.5" ry="2.4" fill="rgb(150,150,150)"/><ellipse cx="244.5" cy="122.6" rx="2.1" ry="2.1" fill="rgb(176,176,176)"/><ellipse cx="265.1" cy="122.6" rx="2.4000000000000004" ry="2.1" fill="rgb(191,191,191)"/><ellipse cx="265.1" cy="126.9" rx="2.4000000000000004" ry="2.1" fill="rgb(191,191,191)"/><ellipse cx="283.0" cy="123.1" rx="2.1" ry="2.1" fill="rgb(168,168,168)"/><ellipse cx="240.2" cy="113.2" rx="1.4" ry="1.4" fill="rgb(82,82,82)"/></g><g filter="url(#ringf)" style="mix-blend-mode:screen"><rect x="299.3" y="92.8" width="64.9" height="63.3" fill="#000"/><path d="M33.6,9 C45,9 54,19.5 54,32.8 C54,46 45,56.6 33.6,56.6 C22.2,56.6 13.2,46 13.2,32.8 C13.2,19.5 22.2,9 33.6,9 Z" transform="translate(298.26,91.83)" fill="none" stroke="rgb(78,78,78)" stroke-width="1.7"/></g><g filter="url(#snr)" style="mix-blend-mode:screen"><rect x="299.3" y="92.8" width="64.9" height="63.3" fill="#000"/><path d="M332.3,145.1 C340.3,145.3 346.8,141.3 348.1,135.3" fill="none" stroke="rgb(191,191,191)" stroke-width="3.0" stroke-linecap="round"/><ellipse cx="332.5" cy="144.8" rx="2.5" ry="2.4" fill="rgb(191,191,191)"/><ellipse cx="311.5" cy="122.6" rx="1.8" ry="1.8" fill="rgb(120,120,120)"/><ellipse cx="334.3" cy="121.3" rx="1.9" ry="1.7" fill="rgb(150,150,150)"/><ellipse cx="350.3" cy="123.1" rx="1.7" ry="1.7" fill="rgb(112,112,112)"/></g><g filter="url(#ringf)" style="mix-blend-mode:screen"><rect x="366.2" y="92.8" width="64.9" height="63.3" fill="#000"/><path d="M33.6,9 C45,9 54,19.5 54,32.8 C54,46 45,56.6 33.6,56.6 C22.2,56.6 13.2,46 13.2,32.8 C13.2,19.5 22.2,9 33.6,9 Z" transform="translate(365.20,91.83)" fill="none" stroke="rgb(71,71,71)" stroke-width="1.7"/></g><g filter="url(#snr)" style="mix-blend-mode:screen"><rect x="366.2" y="92.8" width="64.9" height="63.3" fill="#000"/><path d="M399.2,145.1 C407.2,145.3 413.7,141.3 415.0,135.3" fill="none" stroke="rgb(191,191,191)" stroke-width="3.0" stroke-linecap="round"/><ellipse cx="399.4" cy="144.8" rx="2.5" ry="2.4" fill="rgb(191,191,191)"/><ellipse cx="399.1" cy="126.9" rx="1.8" ry="1.5999999999999999" fill="rgb(112,112,112)"/><ellipse cx="385.4" cy="137.2" rx="1.8" ry="1.7" fill="rgb(142,142,142)"/><ellipse cx="374.1" cy="113.2" rx="1.5" ry="1.5" fill="rgb(90,90,90)"/></g><g filter="url(#ringf)" style="mix-blend-mode:screen"><rect x="433.1" y="92.8" width="64.9" height="63.3" fill="#000"/><path d="M33.6,9 C45,9 54,19.5 54,32.8 C54,46 45,56.6 33.6,56.6 C22.2,56.6 13.2,46 13.2,32.8 C13.2,19.5 22.2,9 33.6,9 Z" transform="translate(432.14,91.83)" fill="none" stroke="rgb(42,42,42)" stroke-width="1.7"/></g><g filter="url(#snr)" style="mix-blend-mode:screen"><rect x="433.1" y="92.8" width="64.9" height="63.3" fill="#000"/><path d="M466.1,145.1 C474.1,145.3 480.6,141.3 481.9,135.3" fill="none" stroke="rgb(150,150,150)" stroke-width="3.0" stroke-linecap="round"/><ellipse cx="466.3" cy="144.8" rx="2.5" ry="2.4" fill="rgb(150,150,150)"/><ellipse cx="442.1" cy="113.2" rx="1.7" ry="1.7" fill="rgb(157,157,157)"/><ellipse cx="452.4" cy="137.2" rx="1.5999999999999999" ry="1.5999999999999999" fill="rgb(112,112,112)"/><ellipse cx="466.0" cy="126.9" rx="1.5999999999999999" ry="1.4" fill="rgb(75,75,75)"/></g><g filter="url(#ringf)" style="mix-blend-mode:screen"><rect x="500.1" y="92.8" width="64.9" height="63.3" fill="#000"/><path d="M33.6,9 C45,9 54,19.5 54,32.8 C54,46 45,56.6 33.6,56.6 C22.2,56.6 13.2,46 13.2,32.8 C13.2,19.5 22.2,9 33.6,9 Z" transform="translate(499.08,91.83)" fill="none" stroke="rgb(25,25,25)" stroke-width="1.7"/></g><g filter="url(#snr)" style="mix-blend-mode:screen"><rect x="500.1" y="92.8" width="64.9" height="63.3" fill="#000"/><path d="M533.1,145.1 C541.1,145.3 547.6,141.3 548.9,135.3" fill="none" stroke="rgb(105,105,105)" stroke-width="3.0" stroke-linecap="round"/><ellipse cx="533.3" cy="144.8" rx="2.5" ry="2.4" fill="rgb(105,105,105)"/><ellipse cx="509.1" cy="113.2" rx="1.7" ry="1.7" fill="rgb(165,165,165)"/><ellipse cx="519.4" cy="137.2" rx="1.5" ry="1.5" fill="rgb(75,75,75)"/></g><g filter="url(#ringf)" style="mix-blend-mode:screen"><rect x="567.0" y="92.8" width="64.9" height="63.3" fill="#000"/><path d="M33.6,9 C45,9 54,19.5 54,32.8 C54,46 45,56.6 33.6,56.6 C22.2,56.6 13.2,46 13.2,32.8 C13.2,19.5 22.2,9 33.6,9 Z" transform="translate(566.02,91.83)" fill="none" stroke="rgb(14,14,14)" stroke-width="1.7"/></g><g filter="url(#snr)" style="mix-blend-mode:screen"><rect x="567.0" y="92.8" width="64.9" height="63.3" fill="#000"/><path d="M600.0,145.1 C608.0,145.3 614.5,141.3 615.8,135.3" fill="none" stroke="rgb(60,60,60)" stroke-width="3.0" stroke-linecap="round"/><ellipse cx="600.2" cy="144.8" rx="2.5" ry="2.4" fill="rgb(60,60,60)"/><ellipse cx="576.0" cy="113.2" rx="1.7" ry="1.7" fill="rgb(172,172,172)"/></g><g filter="url(#ringf)" style="mix-blend-mode:screen"><rect x="98.4" y="158.2" width="64.9" height="63.3" fill="#000"/><ellipse cx="130.2" cy="190.2" rx="20.5" ry="25.5" fill="none" stroke="rgb(10,10,10)" stroke-width="1.7" opacity="1.0"/></g><g filter="url(#snr)" style="mix-blend-mode:screen"><rect x="98.4" y="158.2" width="64.9" height="63.3" fill="#000"/><ellipse cx="106.2" cy="178.3" rx="2.0" ry="2.0" fill="rgb(191,191,191)"/><ellipse cx="148.2" cy="185.2" rx="2.0" ry="1.5999999999999999" fill="rgb(150,150,150)"/><ellipse cx="108.8" cy="187.7" rx="1.5" ry="1.5" fill="rgb(112,112,112)"/><ellipse cx="123.4" cy="187.2" rx="2.2" ry="3.7" fill="rgb(67,67,67)"/><ellipse cx="130.4" cy="189.2" rx="2.4000000000000004" ry="3.2" fill="rgb(90,90,90)"/><ellipse cx="137.4" cy="187.2" rx="2.2" ry="3.7" fill="rgb(67,67,67)"/><ellipse cx="127.4" cy="200.2" rx="3.2" ry="2.2" fill="rgb(37,37,37)"/></g><g filter="url(#ringf)" style="mix-blend-mode:screen"><rect x="165.4" y="158.2" width="64.9" height="63.3" fill="#000"/><ellipse cx="197.2" cy="190.2" rx="20.5" ry="25.5" fill="none" stroke="rgb(68,68,68)" stroke-width="1.7" opacity="1.0"/></g><g filter="url(#snr)" style="mix-blend-mode:screen"><rect x="165.4" y="158.2" width="64.9" height="63.3" fill="#000"/><ellipse cx="173.3" cy="178.3" rx="2.0" ry="2.0" fill="rgb(191,191,191)"/><ellipse cx="176.7" cy="186.8" rx="1.7" ry="1.7" fill="rgb(165,165,165)"/><ellipse cx="215.2" cy="185.2" rx="2.0" ry="1.8" fill="rgb(191,191,191)"/><ellipse cx="195.5" cy="188.6" rx="2.3000000000000003" ry="2.0" fill="rgb(191,191,191)"/><ellipse cx="198.1" cy="183.4" rx="1.5" ry="1.5" fill="rgb(135,135,135)"/><ellipse cx="182.7" cy="210.0" rx="1.8" ry="1.8" fill="rgb(150,150,150)"/><ellipse cx="197.2" cy="213.4" rx="2.2" ry="1.5" fill="rgb(120,120,120)"/><ellipse cx="196.4" cy="205.7" rx="3.7" ry="1.8" fill="rgb(105,105,105)"/><ellipse cx="187.4" cy="189.2" rx="1.4" ry="3.7" fill="rgb(82,82,82)"/><ellipse cx="206.4" cy="189.2" rx="1.4" ry="3.7" fill="rgb(82,82,82)"/></g><g filter="url(#ringf)" style="mix-blend-mode:screen"><rect x="232.3" y="158.2" width="64.9" height="63.3" fill="#000"/><ellipse cx="264.1" cy="190.2" rx="20.5" ry="25.5" fill="none" stroke="rgb(85,85,85)" stroke-width="1.7" opacity="1.0"/></g><g filter="url(#snr)" style="mix-blend-mode:screen"><rect x="232.3" y="158.2" width="64.9" height="63.3" fill="#000"/><ellipse cx="243.7" cy="186.8" rx="1.8" ry="1.8" fill="rgb(165,165,165)"/><ellipse cx="263.4" cy="188.6" rx="2.5" ry="2.2" fill="rgb(191,191,191)"/><ellipse cx="282.2" cy="185.2" rx="2.1" ry="1.9" fill="rgb(191,191,191)"/><ellipse cx="249.7" cy="210.0" rx="1.7" ry="1.7" fill="rgb(127,127,127)"/><ellipse cx="258.3" cy="200.5" rx="1.7" ry="1.7" fill="rgb(90,90,90)"/><ellipse cx="270.3" cy="200.5" rx="1.7" ry="1.7" fill="rgb(90,90,90)"/><ellipse cx="277.3" cy="209.2" rx="1.7" ry="1.7" fill="rgb(97,97,97)"/></g><g filter="url(#ringf)" style="mix-blend-mode:screen"><rect x="299.3" y="158.2" width="64.9" height="63.3" fill="#000"/><ellipse cx="331.1" cy="190.2" rx="20.5" ry="25.5" fill="none" stroke="rgb(108,108,108)" stroke-width="1.7" opacity="1.0"/></g><g filter="url(#snr)" style="mix-blend-mode:screen"><rect x="299.3" y="158.2" width="64.9" height="63.3" fill="#000"/><ellipse cx="307.3" cy="178.3" rx="2.1" ry="2.1" fill="rgb(191,191,191)"/><ellipse cx="330.4" cy="188.6" rx="2.3000000000000003" ry="2.0" fill="rgb(191,191,191)"/><ellipse cx="349.2" cy="185.2" rx="1.9" ry="1.7" fill="rgb(165,165,165)"/><ellipse cx="331.3" cy="212.5" rx="2.6" ry="2.4000000000000004" fill="rgb(191,191,191)"/><ellipse cx="331.3" cy="200.5" rx="1.9" ry="1.7" fill="rgb(157,157,157)"/><ellipse cx="325.3" cy="200.5" rx="1.5999999999999999" ry="1.5" fill="rgb(97,97,97)"/><ellipse cx="337.3" cy="200.5" rx="1.5999999999999999" ry="1.5" fill="rgb(97,97,97)"/><ellipse cx="316.7" cy="210.0" rx="1.5999999999999999" ry="1.5999999999999999" fill="rgb(112,112,112)"/><ellipse cx="331.3" cy="205.7" rx="1.2" ry="3.2" fill="rgb(90,90,90)"/></g><g filter="url(#ringf)" style="mix-blend-mode:screen"><rect x="366.2" y="158.2" width="64.9" height="63.3" fill="#000"/><ellipse cx="398.0" cy="190.2" rx="20.5" ry="25.5" fill="none" stroke="rgb(98,98,98)" stroke-width="1.7" opacity="1.0"/></g><g filter="url(#snr)" style="mix-blend-mode:screen"><rect x="366.2" y="158.2" width="64.9" height="63.3" fill="#000"/><ellipse cx="375.1" cy="178.3" rx="2.1" ry="2.1" fill="rgb(191,191,191)"/><ellipse cx="398.2" cy="212.5" rx="2.6" ry="2.3000000000000003" fill="rgb(191,191,191)"/><ellipse cx="398.2" cy="188.6" rx="1.8" ry="1.5999999999999999" fill="rgb(97,97,97)"/><ellipse cx="398.2" cy="200.5" rx="1.9" ry="1.8" fill="rgb(142,142,142)"/><ellipse cx="391.4" cy="200.5" rx="1.5999999999999999" ry="1.5" fill="rgb(90,90,90)"/><ellipse cx="404.7" cy="200.5" rx="1.5999999999999999" ry="1.5" fill="rgb(82,82,82)"/><ellipse cx="398.2" cy="206.2" rx="1.2" ry="3.2" fill="rgb(82,82,82)"/></g><g filter="url(#ringf)" style="mix-blend-mode:screen"><rect x="433.1" y="158.2" width="64.9" height="63.3" fill="#000"/><ellipse cx="464.9" cy="190.2" rx="20.5" ry="25.5" fill="none" stroke="rgb(61,61,61)" stroke-width="1.7" opacity="1.0"/></g><g filter="url(#snr)" style="mix-blend-mode:screen"><rect x="433.1" y="158.2" width="64.9" height="63.3" fill="#000"/><ellipse cx="442.1" cy="178.3" rx="2.1" ry="2.1" fill="rgb(191,191,191)"/><ellipse cx="466.1" cy="212.5" rx="2.3000000000000003" ry="2.2" fill="rgb(191,191,191)"/><ellipse cx="465.2" cy="200.5" rx="1.7" ry="1.5999999999999999" fill="rgb(82,82,82)"/><ellipse cx="459.1" cy="200.5" rx="1.5" ry="1.4" fill="rgb(63,63,63)"/><ellipse cx="472.1" cy="200.5" rx="1.5" ry="1.4" fill="rgb(63,63,63)"/><ellipse cx="465.1" cy="206.2" rx="1.1" ry="3.2" fill="rgb(67,67,67)"/></g><g filter="url(#ringf)" style="mix-blend-mode:screen"><rect x="500.1" y="158.2" width="64.9" height="63.3" fill="#000"/><ellipse cx="531.9" cy="190.2" rx="20.5" ry="25.5" fill="none" stroke="rgb(37,37,37)" stroke-width="1.7" opacity="1.0"/></g><g filter="url(#snr)" style="mix-blend-mode:screen"><rect x="500.1" y="158.2" width="64.9" height="63.3" fill="#000"/><ellipse cx="510.0" cy="178.3" rx="2.1" ry="2.1" fill="rgb(191,191,191)"/><ellipse cx="534.0" cy="213.4" rx="1.9" ry="1.8" fill="rgb(127,127,127)"/><ellipse cx="526.1" cy="200.5" rx="1.5" ry="1.4" fill="rgb(60,60,60)"/><ellipse cx="539.1" cy="200.5" rx="1.5" ry="1.4" fill="rgb(60,60,60)"/></g><g filter="url(#ringf)" style="mix-blend-mode:screen"><rect x="567.0" y="158.2" width="64.9" height="63.3" fill="#000"/><ellipse cx="598.8" cy="190.2" rx="20.5" ry="25.5" fill="none" stroke="rgb(20,20,20)" stroke-width="1.7" opacity="1.0"/></g><g filter="url(#snr)" style="mix-blend-mode:screen"><rect x="567.0" y="158.2" width="64.9" height="63.3" fill="#000"/><ellipse cx="576.8" cy="178.3" rx="2.1" ry="2.1" fill="rgb(191,191,191)"/></g><text x="31.5" y="60.6" fill="#e8336a" font-size="9.5" text-anchor="start">1a</text><text x="36.5" y="81.6" fill="#e8822a" font-size="9.5" text-anchor="start">2a</text><text x="87" y="63.9" fill="#b054d0" font-size="9.5" text-anchor="start">3</text><rect x="54.3" y="57.6" width="3.4" height="3.4" fill="none" stroke="#e8336a" stroke-width="1"/><rect x="60.4" y="61.6" width="2" height="2.6" fill="none" stroke="#e8822a" stroke-width="0.9"/><rect x="71.2" y="61.3" width="2.6" height="3.2" fill="none" stroke="#b054d0" stroke-width="0.9"/><text x="31.5" y="119.8" fill="#e8336a" font-size="9.5" text-anchor="start">1b</text><text x="30.8" y="133.8" fill="#e8822a" font-size="9.5" text-anchor="start">2b</text><text x="83.8" y="144" fill="#50d060" font-size="9.5" text-anchor="start">4</text><text x="71.8" y="157.4" fill="#4a9ce0" font-size="9.5" text-anchor="start">5</text><rect x="59.3" y="120.6" width="3" height="3" fill="none" stroke="#e8336a" stroke-width="0.9"/><rect x="62.4" y="124.6" width="3" height="3" fill="none" stroke="#e8822a" stroke-width="0.9"/><rect x="75.8" y="134.3" width="2.6" height="3" fill="none" stroke="#50d060" stroke-width="0.9"/><rect x="62.4" y="143.4" width="3" height="3" fill="none" stroke="#4a9ce0" stroke-width="0.9"/><text x="37.6" y="173.1" fill="#98a8b0" font-size="9.5" text-anchor="start">9</text><rect x="39.7" y="176.8" width="1.8" height="2.8" fill="none" stroke="#98a8b0" stroke-width="0.9"/><text x="35" y="196.6" fill="#e6b830" font-size="9.5" text-anchor="start">6</text><rect x="48.5" y="183.2" width="7" height="10" fill="none" stroke="#e6b830" stroke-width="1"/><text x="85.4" y="207.3" fill="#50e8c8" font-size="9.5" text-anchor="start">7</text><rect x="62.6" y="198" width="2.6" height="6.2" fill="none" stroke="#50e8c8" stroke-width="0.9"/><text x="72.6" y="221.9" fill="#f060e0" font-size="9.5" text-anchor="start">8</text><rect x="62.6" y="211.8" width="3" height="2.2" fill="none" stroke="#f060e0" stroke-width="0.9"/><line x1="319.8" y1="42" x2="322.1" y2="51.1" stroke="#e8336a" stroke-width="1.1"/><path d="M323.1,55.0 L320.1,51.6 L324.2,50.6 Z" fill="#e8336a"/><rect x="321.4" y="59" width="3.4" height="3.4" fill="#fff" stroke="#e8336a" stroke-width="1"/><line x1="317.2" y1="76.6" x2="323.1" y2="71.2" stroke="#e8822a" stroke-width="1.1"/><path d="M326.0,68.5 L324.5,72.8 L321.6,69.7 Z" fill="#e8822a"/><rect x="327.8" y="62.8" width="2.4" height="2.4" fill="none" stroke="#e8822a" stroke-width="0.9"/><line x1="413.7" y1="45.4" x2="410.2" y2="53.8" stroke="#b054d0" stroke-width="1.1"/><path d="M408.7,57.5 L408.3,53.0 L412.2,54.6 Z" fill="#b054d0"/><rect x="406" y="60.6" width="3" height="3.4" fill="#fff" stroke="#b054d0" stroke-width="1"/><line x1="320.1" y1="107.3" x2="324.4" y2="115.1" stroke="#e8336a" stroke-width="1.1"/><path d="M326.3,118.6 L322.5,116.1 L326.2,114.1 Z" fill="#e8336a"/><rect x="327" y="120.4" width="3.2" height="3.2" fill="none" stroke="#e8336a" stroke-width="0.9"/><line x1="316.7" y1="132.9" x2="324.1" y2="130.1" stroke="#e8822a" stroke-width="1.1"/><path d="M327.8,128.7 L324.8,132.1 L323.3,128.2 Z" fill="#e8822a"/><rect x="330.4" y="124.4" width="3.4" height="3.4" fill="#fff" stroke="#e8822a" stroke-width="1"/><line x1="362.9" y1="145.8" x2="355.2" y2="141.0" stroke="#50d060" stroke-width="1.1"/><path d="M351.8,138.9 L356.3,139.2 L354.1,142.8 Z" fill="#50d060"/><rect x="344.6" y="134" width="2.6" height="3.4" fill="none" stroke="#50d060" stroke-width="0.9"/><line x1="342.4" y1="157.4" x2="338.2" y2="152.9" stroke="#4a9ce0" stroke-width="1.1"/><path d="M335.5,150.0 L339.8,151.5 L336.7,154.4 Z" fill="#4a9ce0"/><rect x="330.4" y="143.2" width="3.4" height="3.4" fill="#fff" stroke="#4a9ce0" stroke-width="1"/><line x1="240" y1="162" x2="240.2" y2="170.5" stroke="#98a8b0" stroke-width="1.1"/><path d="M240.3,174.5 L238.1,170.6 L242.3,170.5 Z" fill="#98a8b0"/><rect x="239.6" y="176.8" width="2.2" height="3" fill="#ddd" stroke="#98a8b0" stroke-width="0.9"/><line x1="249.7" y1="167.6" x2="250.2" y2="175.5" stroke="#e6b830" stroke-width="1.1"/><path d="M250.5,179.5 L248.1,175.6 L252.3,175.4 Z" fill="#e6b830"/><rect x="248.4" y="183" width="7.2" height="10.4" fill="#5a5a5a" stroke="#e6b830" stroke-width="1"/><line x1="277.9" y1="214.2" x2="272.2" y2="208.4" stroke="#50e8c8" stroke-width="1.1"/><path d="M269.4,205.6 L273.7,207.0 L270.7,209.9 Z" fill="#50e8c8"/><rect x="263.2" y="198" width="2.6" height="6.4" fill="#9ac8c0" stroke="#50e8c8" stroke-width="0.9"/><line x1="249.7" y1="221" x2="257.3" y2="216.9" stroke="#f060e0" stroke-width="1.1"/><path d="M260.8,215.0 L258.3,218.7 L256.3,215.1 Z" fill="#f060e0"/><ellipse cx="264.2" cy="212.5" rx="2" ry="1.5" fill="#f0b0e0"/></g><rect x="635.4" y="26.7" width="9.8" height="56.9" fill="url(#cbg)" stroke="#b0b0b0" stroke-width="0.6"/><text x="647.6" y="30.2" font-size="11" fill="#262626">180</text><text x="647.6" y="87.0" font-size="11" fill="#262626">0</text><rect x="635.4" y="94.6" width="9.8" height="56.9" fill="url(#cbg)" stroke="#b0b0b0" stroke-width="0.6"/><text x="647.6" y="98.4" font-size="11" fill="#262626">100</text><text x="647.6" y="154.9" font-size="11" fill="#262626">0</text><rect x="635.4" y="164.0" width="9.8" height="56.9" fill="url(#cbg)" stroke="#b0b0b0" stroke-width="0.6"/><text x="647.6" y="167.6" font-size="11" fill="#262626">70</text><text x="647.6" y="224.6" font-size="11" fill="#262626">0</text><text x="0" y="0" font-size="11" fill="#262626" text-anchor="middle" transform="translate(676,122.3) rotate(90)">SNR</text><text x="0.4" y="10.1" font-size="13.4" fill="#262626">a</text><text x="8.6" y="10.3" font-size="12.4" fill="#262626">)</text><text x="0.2" y="241.7" font-size="14" fill="#262626">b</text><text x="8.7" y="240.9" font-size="12.4" fill="#262626">)</text><text x="66.05" y="20" font-size="11" fill="#262626" text-anchor="middle">T1w</text><text x="129.75" y="20" font-size="11" fill="#262626" text-anchor="middle" textLength="25.6" lengthAdjust="spacingAndGlyphs">1.5 s</text><text x="197.20" y="20" font-size="11" fill="#262626" text-anchor="middle" textLength="26.2" lengthAdjust="spacingAndGlyphs">4.5 s</text><text x="264.55" y="20" font-size="11" fill="#262626" text-anchor="middle" textLength="26.6" lengthAdjust="spacingAndGlyphs">7.5 s</text><text x="332.70" y="20" font-size="11" fill="#262626" text-anchor="middle" textLength="33.0" lengthAdjust="spacingAndGlyphs">10.5 s</text><text x="399.10" y="20" font-size="11" fill="#262626" text-anchor="middle" textLength="33.3" lengthAdjust="spacingAndGlyphs">13.5 s</text><text x="466.70" y="20" font-size="11" fill="#262626" text-anchor="middle" textLength="32.4" lengthAdjust="spacingAndGlyphs">16.5 s</text><text x="534.10" y="20" font-size="11" fill="#262626" text-anchor="middle" textLength="33.0" lengthAdjust="spacingAndGlyphs">19.5 s</text><text x="601.75" y="20" font-size="11" fill="#262626" text-anchor="middle" textLength="32.7" lengthAdjust="spacingAndGlyphs">22.5 s</text><text x="0" y="0" font-size="11" fill="#262626" text-anchor="middle" transform="translate(26,56.2) rotate(-90)">slice 8</text><text x="0" y="0" font-size="11" fill="#262626" text-anchor="middle" transform="translate(26,121.4) rotate(-90)">slice 10</text><text x="0" y="0" font-size="11" fill="#262626" text-anchor="middle" transform="translate(26,186.3) rotate(-90)">slice 12</text><line x1="110.9" y1="251.5" x2="110.9" y2="367.3" stroke="#efefef" stroke-width="0.75"/><line x1="146.2" y1="251.5" x2="146.2" y2="367.3" stroke="#efefef" stroke-width="0.75"/><line x1="181.6" y1="251.5" x2="181.6" y2="367.3" stroke="#efefef" stroke-width="0.75"/><line x1="75.5" y1="365.1" x2="217.0" y2="365.1" stroke="#efefef" stroke-width="0.75"/><line x1="75.5" y1="342.4" x2="217.0" y2="342.4" stroke="#efefef" stroke-width="0.75"/><line x1="75.5" y1="319.7" x2="217.0" y2="319.7" stroke="#efefef" stroke-width="0.75"/><line x1="75.5" y1="297.0" x2="217.0" y2="297.0" stroke="#efefef" stroke-width="0.75"/><line x1="75.5" y1="274.2" x2="217.0" y2="274.2" stroke="#efefef" stroke-width="0.75"/><polyline points="75.5,349.3 77.6,338.5 81.2,326.9 84.8,316.1 88.3,306.3 91.7,298.5 95.3,299.4 98.9,302.0 102.7,305.4 107.2,313.4 111.6,323.3 117.0,337.6 120.0,344.8 124.5,353.8 129.9,359.1 136.1,361.3 143.3,362.4 150.5,362.7 157.6,363.6 164.8,364.5 168.0,364.8 173.1,364.3 178.2,363.3 181.3,363.8 186.4,362.2 191.5,363.8 198.7,364.3 203.8,364.6 216.8,364.3" fill="none" stroke="#e88a3c" stroke-width="1.1" stroke-linejoin="round"/><polyline points="75.8,367.2 80.0,366.0 85.6,365.4 91.0,356.5 95.5,343.0 100.0,325.0 103.6,309.0 106.3,300.0 108.1,293.0 112.5,281.4 117.9,279.6 123.3,285.8 127.8,293.0 130.8,300.0 134.3,310.8 137.9,321.5 142.4,332.3 146.9,343.0 151.4,350.2 155.8,354.7 163.0,358.2 168.0,361.7 172.1,362.8 176.2,363.3 180.3,362.2 185.4,361.2 192.6,359.7 198.7,360.7 203.8,362.2 208.9,363.3 216.8,363.6" fill="none" stroke="#b05cd4" stroke-width="1.1" stroke-linejoin="round"/><polyline points="75.5,308.0 77.4,286.0 80.1,271.5 82.8,262.6 85.5,254.5 87.3,254.0 90.0,255.0 93.5,258.0 97.1,262.6 100.0,267.0 102.4,272.5 104.5,279.0 106.5,288.0 108.5,299.0 110.5,310.0 112.5,321.0 114.5,330.0 116.5,337.0 119.7,343.0 123.3,349.3 128.1,355.6 134.3,357.3 139.7,358.2 145.0,359.1 152.3,359.7 159.4,359.7 166.6,359.1 172.1,359.9 177.2,359.9 179.3,362.2 183.4,362.5 188.5,362.8 193.6,362.2 198.7,362.8 203.8,363.8 208.9,363.6 216.8,363.8" fill="none" stroke="#f0426e" stroke-width="1.1" stroke-linejoin="round"/><text x="84.0" y="277.9" font-size="9" fill="#f0426e" textLength="10.2" lengthAdjust="spacingAndGlyphs">3s</text><line x1="86.1" y1="251.8" x2="86.1" y2="270.5" stroke="#f0426e" stroke-width="0.9" stroke-dasharray="1,1.2"/><text x="82.0" y="293.3" font-size="9" fill="#e88a3c" textLength="19.8" lengthAdjust="spacingAndGlyphs">4.5s</text><line x1="91.5" y1="295.0" x2="91.5" y2="313.0" stroke="#e88a3c" stroke-width="0.9" stroke-dasharray="1,1.2"/><text x="112.9" y="272.5" font-size="9" fill="#b05cd4" textLength="15.4" lengthAdjust="spacingAndGlyphs">12s</text><line x1="117.9" y1="275.0" x2="117.9" y2="292.5" stroke="#b05cd4" stroke-width="0.9" stroke-dasharray="1,1.2"/><rect x="75.5" y="251.5" width="141.5" height="115.8" fill="none" stroke="#262626" stroke-width="0.9"/><text x="75.5" y="377.7" font-size="8.5" fill="#262626" text-anchor="middle">0</text><line x1="75.5" y1="367.3" x2="75.5" y2="365.90000000000003" stroke="#262626" stroke-width="0.7"/><line x1="75.5" y1="251.5" x2="75.5" y2="252.9" stroke="#262626" stroke-width="0.7"/><text x="110.9" y="377.7" font-size="8.5" fill="#262626" text-anchor="middle">10</text><line x1="110.9" y1="367.3" x2="110.9" y2="365.90000000000003" stroke="#262626" stroke-width="0.7"/><line x1="110.9" y1="251.5" x2="110.9" y2="252.9" stroke="#262626" stroke-width="0.7"/><text x="146.2" y="377.7" font-size="8.5" fill="#262626" text-anchor="middle">20</text><line x1="146.2" y1="367.3" x2="146.2" y2="365.90000000000003" stroke="#262626" stroke-width="0.7"/><line x1="146.2" y1="251.5" x2="146.2" y2="252.9" stroke="#262626" stroke-width="0.7"/><text x="181.6" y="377.7" font-size="8.5" fill="#262626" text-anchor="middle">30</text><line x1="181.6" y1="367.3" x2="181.6" y2="365.90000000000003" stroke="#262626" stroke-width="0.7"/><line x1="181.6" y1="251.5" x2="181.6" y2="252.9" stroke="#262626" stroke-width="0.7"/><text x="217.0" y="377.7" font-size="8.5" fill="#262626" text-anchor="middle">40</text><line x1="217.0" y1="367.3" x2="217.0" y2="365.90000000000003" stroke="#262626" stroke-width="0.7"/><line x1="217.0" y1="251.5" x2="217.0" y2="252.9" stroke="#262626" stroke-width="0.7"/><text x="71.9" y="367.7" font-size="8.5" fill="#262626" text-anchor="end">0</text><line x1="75.5" y1="365.1" x2="76.9" y2="365.1" stroke="#262626" stroke-width="0.7"/><line x1="217.0" y1="365.1" x2="215.6" y2="365.1" stroke="#262626" stroke-width="0.7"/><text x="71.9" y="345.0" font-size="8.5" fill="#262626" text-anchor="end">20</text><line x1="75.5" y1="342.4" x2="76.9" y2="342.4" stroke="#262626" stroke-width="0.7"/><line x1="217.0" y1="342.4" x2="215.6" y2="342.4" stroke="#262626" stroke-width="0.7"/><text x="71.9" y="322.3" font-size="8.5" fill="#262626" text-anchor="end">40</text><line x1="75.5" y1="319.7" x2="76.9" y2="319.7" stroke="#262626" stroke-width="0.7"/><line x1="217.0" y1="319.7" x2="215.6" y2="319.7" stroke="#262626" stroke-width="0.7"/><text x="71.9" y="299.6" font-size="8.5" fill="#262626" text-anchor="end">60</text><line x1="75.5" y1="297.0" x2="76.9" y2="297.0" stroke="#262626" stroke-width="0.7"/><line x1="217.0" y1="297.0" x2="215.6" y2="297.0" stroke="#262626" stroke-width="0.7"/><text x="71.9" y="276.8" font-size="8.5" fill="#262626" text-anchor="end">80</text><line x1="75.5" y1="274.2" x2="76.9" y2="274.2" stroke="#262626" stroke-width="0.7"/><line x1="217.0" y1="274.2" x2="215.6" y2="274.2" stroke="#262626" stroke-width="0.7"/><text x="71.9" y="254.1" font-size="8.5" fill="#262626" text-anchor="end">100</text><line x1="75.5" y1="251.5" x2="76.9" y2="251.5" stroke="#262626" stroke-width="0.7"/><line x1="217.0" y1="251.5" x2="215.6" y2="251.5" stroke="#262626" stroke-width="0.7"/><text x="145.4" y="245.9" font-size="11" fill="#262626" text-anchor="middle" textLength="33.2" lengthAdjust="spacingAndGlyphs">slice 8</text><text x="146.2" y="389.2" font-size="9.6" fill="#262626" text-anchor="middle" textLength="35" lengthAdjust="spacingAndGlyphs">Time [s]</text><text x="0" y="0" font-size="10.5" fill="#262626" text-anchor="middle" transform="translate(51.6,307.5) rotate(-90)">Mean SNR</text><rect x="171.2" y="257.4" width="38.8" height="35.8" fill="none" stroke="#262626" stroke-width="0.8"/><line x1="174.6" y1="265.4" x2="190.0" y2="265.4" stroke="#f0426e" stroke-width="1.1"/><text x="194.8" y="269.0" font-size="10.2" fill="#262626">1a</text><line x1="174.6" y1="276.4" x2="190.0" y2="276.4" stroke="#e88a3c" stroke-width="1.1"/><text x="194.8" y="280.0" font-size="10.2" fill="#262626">2a</text><line x1="174.6" y1="287.4" x2="190.0" y2="287.4" stroke="#b05cd4" stroke-width="1.1"/><text x="194.8" y="291.0" font-size="10.2" fill="#262626">3</text><line x1="310.9" y1="251.5" x2="310.9" y2="367.3" stroke="#efefef" stroke-width="0.75"/><line x1="346.2" y1="251.5" x2="346.2" y2="367.3" stroke="#efefef" stroke-width="0.75"/><line x1="381.6" y1="251.5" x2="381.6" y2="367.3" stroke="#efefef" stroke-width="0.75"/><line x1="275.5" y1="328.7" x2="417.0" y2="328.7" stroke="#efefef" stroke-width="0.75"/><line x1="275.5" y1="290.1" x2="417.0" y2="290.1" stroke="#efefef" stroke-width="0.75"/><polyline points="275.5,347.0 279.4,339.4 283.9,332.3 287.4,326.0 291.0,323.7 295.5,326.0 301.8,331.4 307.2,340.3 312.5,347.5 317.9,354.7 320.0,358.3 323.1,362.1 329.2,363.7 335.3,364.4 343.0,363.7 350.7,364.4 358.3,364.4 366.0,366.0 374.2,365.6 381.3,365.3 391.6,366.0 406.9,366.3 416.8,366.8" fill="none" stroke="#f0426e" stroke-width="1.1" stroke-linejoin="round"/><polyline points="275.5,356.0 279.4,341.2 283.0,326.9 286.5,314.3 288.3,302.0 290.9,290.5 296.2,287.6 301.6,290.6 307.0,295.2 308.9,300.0 310.8,306.7 312.5,310.8 317.0,326.9 320.0,335.3 323.1,344.5 327.7,353.7 333.8,358.3 339.9,361.8 346.1,362.5 352.2,362.9 359.9,363.7 366.0,365.8 376.2,365.6 383.4,364.3 389.5,365.3 396.7,365.3 406.9,365.8 416.8,366.3" fill="none" stroke="#e88a3c" stroke-width="1.1" stroke-linejoin="round"/><polyline points="275.8,367.3 282.1,366.7 286.5,360.9 291.0,350.2 295.5,337.6 300.0,323.3 304.5,310.8 307.7,300.6 312.3,296.5 316.9,297.5 320.0,301.1 323.6,305.6 327.2,311.8 330.7,320.7 335.3,331.5 339.9,342.2 344.5,351.4 349.1,356.8 353.7,359.8 359.9,362.1 366.0,363.2 376.2,363.7 383.4,362.5 391.6,363.2 399.7,363.7 406.9,364.3 416.8,364.6" fill="none" stroke="#5ee070" stroke-width="1.1" stroke-linejoin="round"/><polyline points="275.8,367.3 281.2,366.3 285.6,359.1 289.2,344.8 292.8,328.7 296.4,312.5 300.0,300.0 303.9,280.7 307.0,273.0 312.3,268.4 317.7,271.5 320.0,274.2 323.6,284.0 327.2,294.8 330.8,305.6 332.3,310.0 335.3,319.2 339.2,329.9 343.0,340.7 346.8,349.9 350.7,356.0 355.3,359.8 361.4,361.8 366.0,362.5 374.2,362.7 381.3,361.2 388.5,362.7 396.7,362.2 403.8,363.2 408.9,364.3 416.8,364.8" fill="none" stroke="#5aa2e0" stroke-width="1.1" stroke-linejoin="round"/><text x="286.3" y="280.5" font-size="9" fill="#e88a3c" textLength="9.9" lengthAdjust="spacingAndGlyphs">6s</text><line x1="296.7" y1="282.0" x2="296.7" y2="299.0" stroke="#e88a3c" stroke-width="0.9" stroke-dasharray="1,1.2"/><text x="315.8" y="262.7" font-size="9" fill="#5aa2e0" textLength="24.3" lengthAdjust="spacingAndGlyphs">10.5s</text><line x1="312.3" y1="259.7" x2="312.3" y2="276.5" stroke="#5aa2e0" stroke-width="0.9" stroke-dasharray="1,1.2"/><text x="306.3" y="287.3" font-size="9" fill="#5ee070" textLength="24.4" lengthAdjust="spacingAndGlyphs">10.5s</text><line x1="312.3" y1="290.0" x2="312.3" y2="303.0" stroke="#5ee070" stroke-width="0.9" stroke-dasharray="1,1.2"/><text x="280.3" y="312.6" font-size="9" fill="#f0426e" textLength="18.8" lengthAdjust="spacingAndGlyphs">4.5s</text><line x1="291.4" y1="314.3" x2="291.4" y2="331.4" stroke="#f0426e" stroke-width="0.9" stroke-dasharray="1,1.2"/><rect x="275.5" y="251.5" width="141.5" height="115.8" fill="none" stroke="#262626" stroke-width="0.9"/><text x="275.5" y="377.7" font-size="8.5" fill="#262626" text-anchor="middle">0</text><line x1="275.5" y1="367.3" x2="275.5" y2="365.90000000000003" stroke="#262626" stroke-width="0.7"/><line x1="275.5" y1="251.5" x2="275.5" y2="252.9" stroke="#262626" stroke-width="0.7"/><text x="310.9" y="377.7" font-size="8.5" fill="#262626" text-anchor="middle">10</text><line x1="310.9" y1="367.3" x2="310.9" y2="365.90000000000003" stroke="#262626" stroke-width="0.7"/><line x1="310.9" y1="251.5" x2="310.9" y2="252.9" stroke="#262626" stroke-width="0.7"/><text x="346.2" y="377.7" font-size="8.5" fill="#262626" text-anchor="middle">20</text><line x1="346.2" y1="367.3" x2="346.2" y2="365.90000000000003" stroke="#262626" stroke-width="0.7"/><line x1="346.2" y1="251.5" x2="346.2" y2="252.9" stroke="#262626" stroke-width="0.7"/><text x="381.6" y="377.7" font-size="8.5" fill="#262626" text-anchor="middle">30</text><line x1="381.6" y1="367.3" x2="381.6" y2="365.90000000000003" stroke="#262626" stroke-width="0.7"/><line x1="381.6" y1="251.5" x2="381.6" y2="252.9" stroke="#262626" stroke-width="0.7"/><text x="417.0" y="377.7" font-size="8.5" fill="#262626" text-anchor="middle">40</text><line x1="417.0" y1="367.3" x2="417.0" y2="365.90000000000003" stroke="#262626" stroke-width="0.7"/><line x1="417.0" y1="251.5" x2="417.0" y2="252.9" stroke="#262626" stroke-width="0.7"/><text x="271.9" y="369.9" font-size="8.5" fill="#262626" text-anchor="end">0</text><line x1="275.5" y1="367.3" x2="276.9" y2="367.3" stroke="#262626" stroke-width="0.7"/><line x1="417.0" y1="367.3" x2="415.6" y2="367.3" stroke="#262626" stroke-width="0.7"/><text x="271.9" y="331.3" font-size="8.5" fill="#262626" text-anchor="end">50</text><line x1="275.5" y1="328.7" x2="276.9" y2="328.7" stroke="#262626" stroke-width="0.7"/><line x1="417.0" y1="328.7" x2="415.6" y2="328.7" stroke="#262626" stroke-width="0.7"/><text x="271.9" y="292.7" font-size="8.5" fill="#262626" text-anchor="end">100</text><line x1="275.5" y1="290.1" x2="276.9" y2="290.1" stroke="#262626" stroke-width="0.7"/><line x1="417.0" y1="290.1" x2="415.6" y2="290.1" stroke="#262626" stroke-width="0.7"/><text x="271.9" y="254.1" font-size="8.5" fill="#262626" text-anchor="end">150</text><line x1="275.5" y1="251.5" x2="276.9" y2="251.5" stroke="#262626" stroke-width="0.7"/><line x1="417.0" y1="251.5" x2="415.6" y2="251.5" stroke="#262626" stroke-width="0.7"/><text x="346.6" y="245.9" font-size="11" fill="#262626" text-anchor="middle" textLength="38.8" lengthAdjust="spacingAndGlyphs">slice 10</text><text x="346.2" y="389.2" font-size="9.6" fill="#262626" text-anchor="middle" textLength="35" lengthAdjust="spacingAndGlyphs">Time [s]</text><text x="0" y="0" font-size="10.5" fill="#262626" text-anchor="middle" transform="translate(251.6,307.5) rotate(-90)">Mean SNR</text><rect x="370.4" y="257.2" width="38.4" height="49.8" fill="none" stroke="#262626" stroke-width="0.8"/><line x1="373.8" y1="265.2" x2="389.2" y2="265.2" stroke="#f0426e" stroke-width="1.1"/><text x="394.0" y="268.8" font-size="10.2" fill="#262626">1b</text><line x1="373.8" y1="276.2" x2="389.2" y2="276.2" stroke="#e88a3c" stroke-width="1.1"/><text x="394.0" y="279.8" font-size="10.2" fill="#262626">2b</text><line x1="373.8" y1="287.2" x2="389.2" y2="287.2" stroke="#5ee070" stroke-width="1.1"/><text x="394.0" y="290.8" font-size="10.2" fill="#262626">4</text><line x1="373.8" y1="298.2" x2="389.2" y2="298.2" stroke="#5aa2e0" stroke-width="1.1"/><text x="394.0" y="301.8" font-size="10.2" fill="#262626">5</text><line x1="510.9" y1="251.5" x2="510.9" y2="367.3" stroke="#efefef" stroke-width="0.75"/><line x1="546.2" y1="251.5" x2="546.2" y2="367.3" stroke="#efefef" stroke-width="0.75"/><line x1="581.6" y1="251.5" x2="581.6" y2="367.3" stroke="#efefef" stroke-width="0.75"/><line x1="475.5" y1="365.3" x2="617.0" y2="365.3" stroke="#efefef" stroke-width="0.75"/><line x1="475.5" y1="336.9" x2="617.0" y2="336.9" stroke="#efefef" stroke-width="0.75"/><line x1="475.5" y1="308.4" x2="617.0" y2="308.4" stroke="#efefef" stroke-width="0.75"/><line x1="475.5" y1="280.0" x2="617.0" y2="280.0" stroke="#efefef" stroke-width="0.75"/><polyline points="475.8,357.3 480.3,354.7 484.8,350.2 489.2,346.2 493.7,344.8 499.1,344.8 504.5,347.5 509.8,351.1 515.2,354.7 520.0,356.8 524.6,360.6 530.7,362.9 536.9,364.0 544.5,364.4 553.7,364.4 562.9,364.0 570.0,364.4 580.0,366.0 600.0,366.2 616.8,366.4" fill="none" stroke="#efbd40" stroke-width="1.1" stroke-linejoin="round"/><polyline points="475.8,367.2 481.2,365.4 485.6,360.9 490.1,350.2 494.6,341.2 499.1,331.4 502.7,326.0 507.2,322.4 512.5,323.3 517.9,326.0 520.0,328.4 523.1,334.5 527.7,342.2 533.8,349.1 539.9,355.2 546.1,359.8 550.7,362.9 558.3,363.7 570.0,364.4 579.3,364.2 590.1,364.5 600.8,365.4 608.0,363.6 616.8,364.2" fill="none" stroke="#66f0d8" stroke-width="1.1" stroke-linejoin="round"/><polyline points="475.5,296.0 477.5,302.0 481.2,311.1 486.5,311.1 491.9,310.4 496.4,311.6 502.7,309.9 509.8,310.4 517.0,310.8 520.0,311.5 527.2,311.8 533.4,310.0 539.7,311.3 546.9,310.9 555.8,311.8 565.0,311.1 571.3,312.5 577.5,310.4 586.5,312.5 593.7,310.8 600.8,311.6 608.0,312.2 616.8,311.6" fill="none" stroke="#96a8b2" stroke-width="1.1" stroke-linejoin="round"/><polyline points="476.7,366.7 482.1,363.6 486.5,357.3 490.1,346.6 492.8,332.3 495.5,316.1 498.2,300.0 499.3,296.0 502.4,283.7 506.2,274.5 509.3,269.2 512.9,265.0 516.2,268.4 520.0,275.3 523.6,284.9 527.2,296.6 530.8,307.0 535.3,319.2 539.2,329.9 543.8,342.2 549.1,352.9 555.3,359.1 559.9,362.1 564.5,362.1 570.4,363.6 576.6,360.6 582.9,362.7 588.3,361.8 593.7,363.6 598.2,361.3 601.7,364.5 608.0,363.6 613.4,362.7 616.8,363.6" fill="none" stroke="#f86ef2" stroke-width="1.1" stroke-linejoin="round"/><text x="515.7" y="260.9" font-size="9" fill="#f86ef2" textLength="24.9" lengthAdjust="spacingAndGlyphs">10.5s</text><line x1="513.1" y1="257.0" x2="513.1" y2="274.0" stroke="#f86ef2" stroke-width="0.9" stroke-dasharray="1,1.2"/><text x="505.4" y="341.0" font-size="9" fill="#66f0d8" textLength="9.8" lengthAdjust="spacingAndGlyphs">9s</text><line x1="507.5" y1="315.0" x2="507.5" y2="332.3" stroke="#66f0d8" stroke-width="0.9" stroke-dasharray="1,1.2"/><text x="492.8" y="362.8" font-size="9" fill="#efbd40" textLength="9.9" lengthAdjust="spacingAndGlyphs">6s</text><line x1="496.9" y1="335.0" x2="496.9" y2="353.0" stroke="#efbd40" stroke-width="0.9" stroke-dasharray="1,1.2"/><rect x="475.5" y="251.5" width="141.5" height="115.8" fill="none" stroke="#262626" stroke-width="0.9"/><text x="475.5" y="377.7" font-size="8.5" fill="#262626" text-anchor="middle">0</text><line x1="475.5" y1="367.3" x2="475.5" y2="365.90000000000003" stroke="#262626" stroke-width="0.7"/><line x1="475.5" y1="251.5" x2="475.5" y2="252.9" stroke="#262626" stroke-width="0.7"/><text x="510.9" y="377.7" font-size="8.5" fill="#262626" text-anchor="middle">10</text><line x1="510.9" y1="367.3" x2="510.9" y2="365.90000000000003" stroke="#262626" stroke-width="0.7"/><line x1="510.9" y1="251.5" x2="510.9" y2="252.9" stroke="#262626" stroke-width="0.7"/><text x="546.2" y="377.7" font-size="8.5" fill="#262626" text-anchor="middle">20</text><line x1="546.2" y1="367.3" x2="546.2" y2="365.90000000000003" stroke="#262626" stroke-width="0.7"/><line x1="546.2" y1="251.5" x2="546.2" y2="252.9" stroke="#262626" stroke-width="0.7"/><text x="581.6" y="377.7" font-size="8.5" fill="#262626" text-anchor="middle">30</text><line x1="581.6" y1="367.3" x2="581.6" y2="365.90000000000003" stroke="#262626" stroke-width="0.7"/><line x1="581.6" y1="251.5" x2="581.6" y2="252.9" stroke="#262626" stroke-width="0.7"/><text x="617.0" y="377.7" font-size="8.5" fill="#262626" text-anchor="middle">40</text><line x1="617.0" y1="367.3" x2="617.0" y2="365.90000000000003" stroke="#262626" stroke-width="0.7"/><line x1="617.0" y1="251.5" x2="617.0" y2="252.9" stroke="#262626" stroke-width="0.7"/><text x="471.9" y="367.9" font-size="8.5" fill="#262626" text-anchor="end">0</text><line x1="475.5" y1="365.3" x2="476.9" y2="365.3" stroke="#262626" stroke-width="0.7"/><line x1="617.0" y1="365.3" x2="615.6" y2="365.3" stroke="#262626" stroke-width="0.7"/><text x="471.9" y="339.5" font-size="8.5" fill="#262626" text-anchor="end">20</text><line x1="475.5" y1="336.9" x2="476.9" y2="336.9" stroke="#262626" stroke-width="0.7"/><line x1="617.0" y1="336.9" x2="615.6" y2="336.9" stroke="#262626" stroke-width="0.7"/><text x="471.9" y="311.0" font-size="8.5" fill="#262626" text-anchor="end">40</text><line x1="475.5" y1="308.4" x2="476.9" y2="308.4" stroke="#262626" stroke-width="0.7"/><line x1="617.0" y1="308.4" x2="615.6" y2="308.4" stroke="#262626" stroke-width="0.7"/><text x="471.9" y="282.6" font-size="8.5" fill="#262626" text-anchor="end">60</text><line x1="475.5" y1="280.0" x2="476.9" y2="280.0" stroke="#262626" stroke-width="0.7"/><line x1="617.0" y1="280.0" x2="615.6" y2="280.0" stroke="#262626" stroke-width="0.7"/><text x="471.9" y="254.1" font-size="8.5" fill="#262626" text-anchor="end">80</text><line x1="475.5" y1="251.5" x2="476.9" y2="251.5" stroke="#262626" stroke-width="0.7"/><line x1="617.0" y1="251.5" x2="615.6" y2="251.5" stroke="#262626" stroke-width="0.7"/><text x="546.5" y="245.9" font-size="11" fill="#262626" text-anchor="middle" textLength="38.8" lengthAdjust="spacingAndGlyphs">slice 12</text><text x="546.2" y="389.2" font-size="9.6" fill="#262626" text-anchor="middle" textLength="35" lengthAdjust="spacingAndGlyphs">Time [s]</text><text x="0" y="0" font-size="10.5" fill="#262626" text-anchor="middle" transform="translate(451.6,307.5) rotate(-90)">Mean SNR</text><rect x="567.4" y="257.3" width="42.8" height="48.0" fill="none" stroke="#262626" stroke-width="0.8"/><line x1="570.8" y1="265.3" x2="586.2" y2="265.3" stroke="#efbd40" stroke-width="1.1"/><text x="591.0" y="268.9" font-size="10.2" fill="#262626">6</text><line x1="570.8" y1="276.3" x2="586.2" y2="276.3" stroke="#66f0d8" stroke-width="1.1"/><text x="591.0" y="279.9" font-size="10.2" fill="#262626">7</text><line x1="570.8" y1="287.3" x2="586.2" y2="287.3" stroke="#f86ef2" stroke-width="1.1"/><text x="591.0" y="290.9" font-size="10.2" fill="#262626">8</text><line x1="570.8" y1="298.3" x2="586.2" y2="298.3" stroke="#96a8b2" stroke-width="1.1"/><text x="591.0" y="301.9" font-size="10.2" fill="#262626">9</text></svg>
</body></html>
